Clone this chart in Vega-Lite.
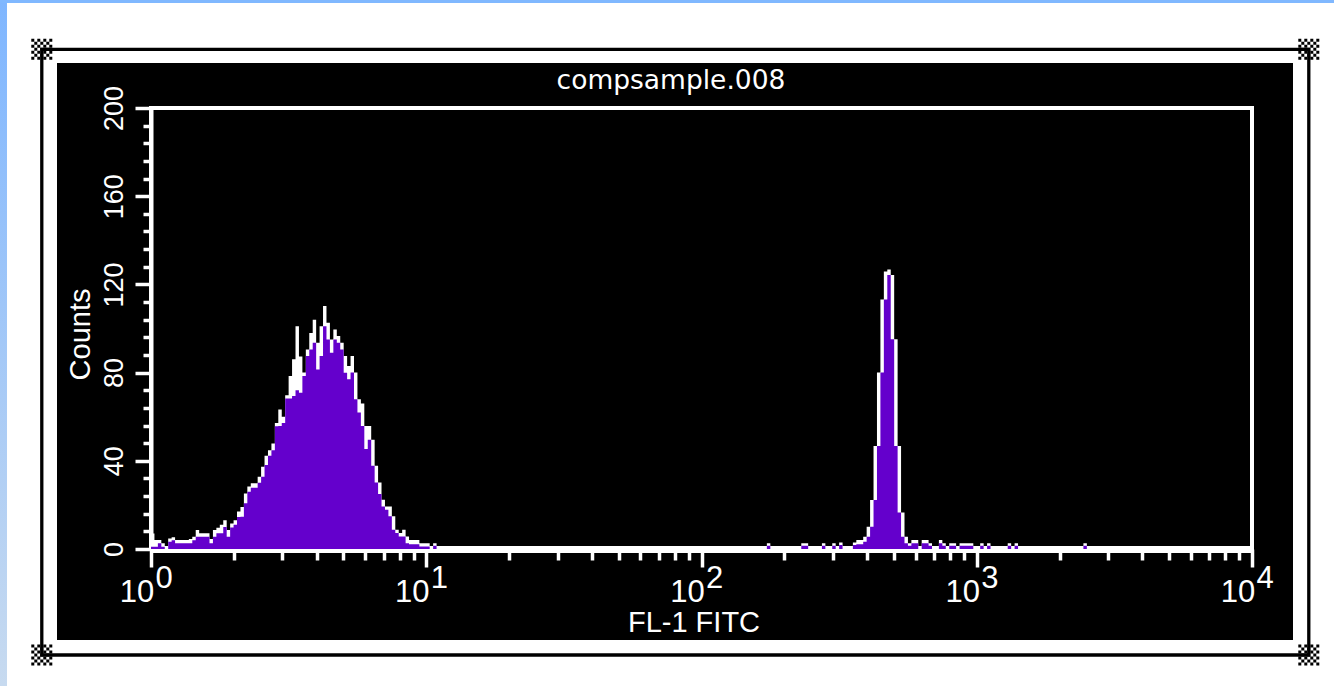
{
  "$schema": "https://vega.github.io/schema/vega-lite/v6.json",
  "width": 1236,
  "height": 577,
  "autosize": {"type": "none"},
  "padding": {"left": 57, "top": 63, "right": 41, "bottom": 46},
  "background": "white",
  "config": {"view": {"fill": "black", "stroke": null}},
  "title": {"text": "compsample.008", "color": "white", "font": "DejaVu Sans", "fontSize": 26.5, "fontWeight": "normal", "anchor": "middle", "frame": "group", "offset": -116, "baseline": "alphabetic", "dx": -4},
  "data": {"values": [
    {"fl1": 1, "n": 1, "w": 7},
    {"fl1": 1.0292, "n": 1, "w": 4.1},
    {"fl1": 1.0593, "n": 2.6, "w": 4.1},
    {"fl1": 1.0902, "n": 1, "w": 2.6},
    {"fl1": 1.122, "n": 0, "w": 0},
    {"fl1": 1.1548, "n": 3.3, "w": 4.8},
    {"fl1": 1.1885, "n": 4, "w": 5.3},
    {"fl1": 1.2232, "n": 2.6, "w": 4.1},
    {"fl1": 1.2589, "n": 2.6, "w": 4.1},
    {"fl1": 1.2957, "n": 2.6, "w": 4.1},
    {"fl1": 1.3335, "n": 2.6, "w": 4.1},
    {"fl1": 1.3725, "n": 2.6, "w": 4.5},
    {"fl1": 1.4125, "n": 4, "w": 5.6},
    {"fl1": 1.4538, "n": 5.6, "w": 8.6},
    {"fl1": 1.4962, "n": 5.6, "w": 7.1},
    {"fl1": 1.5399, "n": 5.6, "w": 7.1},
    {"fl1": 1.5849, "n": 5.6, "w": 7.1},
    {"fl1": 1.6312, "n": 2.6, "w": 4.5},
    {"fl1": 1.6788, "n": 5.6, "w": 8.6},
    {"fl1": 1.7278, "n": 7.1, "w": 9.6},
    {"fl1": 1.7783, "n": 7.1, "w": 11},
    {"fl1": 1.8302, "n": 10, "w": 13},
    {"fl1": 1.8836, "n": 5.6, "w": 8.6},
    {"fl1": 1.9387, "n": 9.8, "w": 11.6},
    {"fl1": 1.9953, "n": 11, "w": 13},
    {"fl1": 2.0535, "n": 14.5, "w": 17},
    {"fl1": 2.1135, "n": 14.6, "w": 19.1},
    {"fl1": 2.1752, "n": 20.7, "w": 25.2},
    {"fl1": 2.2387, "n": 26, "w": 28.3},
    {"fl1": 2.3041, "n": 27.8, "w": 29.8},
    {"fl1": 2.3714, "n": 27.8, "w": 29.8},
    {"fl1": 2.4406, "n": 30.1, "w": 32.8},
    {"fl1": 2.5119, "n": 32.8, "w": 37.3},
    {"fl1": 2.5852, "n": 38.1, "w": 42.3},
    {"fl1": 2.6607, "n": 42.3, "w": 44.8},
    {"fl1": 2.7384, "n": 44.8, "w": 47.8},
    {"fl1": 2.8184, "n": 55.7, "w": 57.1},
    {"fl1": 2.9007, "n": 55.8, "w": 63.3},
    {"fl1": 2.9854, "n": 57.1, "w": 60},
    {"fl1": 3.0726, "n": 68.3, "w": 69.7},
    {"fl1": 3.1623, "n": 68.3, "w": 78.5},
    {"fl1": 3.2546, "n": 69.4, "w": 86},
    {"fl1": 3.3497, "n": 72, "w": 101},
    {"fl1": 3.4475, "n": 70.9, "w": 87.3},
    {"fl1": 3.5481, "n": 78.5, "w": 80},
    {"fl1": 3.6517, "n": 87.5, "w": 90.5},
    {"fl1": 3.7584, "n": 90.5, "w": 98},
    {"fl1": 3.8681, "n": 93.5, "w": 104},
    {"fl1": 3.9811, "n": 81.4, "w": 93.5},
    {"fl1": 4.0973, "n": 87.5, "w": 101},
    {"fl1": 4.217, "n": 101, "w": 110.2},
    {"fl1": 4.3401, "n": 95, "w": 102.6},
    {"fl1": 4.4668, "n": 89, "w": 95},
    {"fl1": 4.5973, "n": 95, "w": 99.6},
    {"fl1": 4.7315, "n": 93.5, "w": 96.6},
    {"fl1": 4.8697, "n": 90.5, "w": 93.5},
    {"fl1": 5.0119, "n": 79.9, "w": 87.5},
    {"fl1": 5.1582, "n": 77, "w": 83},
    {"fl1": 5.3088, "n": 80, "w": 87.5},
    {"fl1": 5.4639, "n": 67.9, "w": 80},
    {"fl1": 5.6234, "n": 61.9, "w": 67.9},
    {"fl1": 5.7876, "n": 55.8, "w": 66},
    {"fl1": 5.9566, "n": 45.3, "w": 55.8},
    {"fl1": 6.1306, "n": 49.5, "w": 55.8},
    {"fl1": 6.3096, "n": 37.7, "w": 49.5},
    {"fl1": 6.4938, "n": 30.2, "w": 37.7},
    {"fl1": 6.6834, "n": 25, "w": 30.2},
    {"fl1": 6.8786, "n": 19.3, "w": 22.3},
    {"fl1": 7.0795, "n": 17.8, "w": 19.3},
    {"fl1": 7.2862, "n": 14.8, "w": 19.3},
    {"fl1": 7.4989, "n": 8.7, "w": 14.8},
    {"fl1": 7.7179, "n": 7.2, "w": 8.7},
    {"fl1": 7.9433, "n": 5.7, "w": 7.2},
    {"fl1": 8.1752, "n": 5.7, "w": 8.7},
    {"fl1": 8.414, "n": 2.6, "w": 5.7},
    {"fl1": 8.6596, "n": 2.2, "w": 4.1},
    {"fl1": 8.9125, "n": 2.2, "w": 4.1},
    {"fl1": 9.1728, "n": 2.2, "w": 4.1},
    {"fl1": 9.4406, "n": 1.1, "w": 2.6},
    {"fl1": 9.7163, "n": 1.1, "w": 2.6},
    {"fl1": 10, "n": 1.1, "w": 2.6},
    {"fl1": 10.292, "n": 0, "w": 0},
    {"fl1": 10.593, "n": 1.5, "w": 2.6},
    {"fl1": 10.902, "n": 0, "w": 0},
    {"fl1": 172.78, "n": 1.5, "w": 2.6},
    {"fl1": 177.83, "n": 0, "w": 0},
    {"fl1": 230.41, "n": 1.5, "w": 2.6},
    {"fl1": 237.14, "n": 1.5, "w": 2.6},
    {"fl1": 244.06, "n": 0, "w": 0},
    {"fl1": 273.84, "n": 1.5, "w": 2.6},
    {"fl1": 281.84, "n": 0, "w": 0},
    {"fl1": 298.54, "n": 1.5, "w": 2.6},
    {"fl1": 307.26, "n": 0, "w": 0},
    {"fl1": 316.23, "n": 1.8, "w": 3},
    {"fl1": 325.46, "n": 0, "w": 0},
    {"fl1": 354.81, "n": 1.8, "w": 3},
    {"fl1": 365.17, "n": 2.2, "w": 4.1},
    {"fl1": 375.84, "n": 2.2, "w": 4.1},
    {"fl1": 386.81, "n": 3.3, "w": 5.6},
    {"fl1": 398.11, "n": 5.6, "w": 10.1},
    {"fl1": 409.73, "n": 10.1, "w": 22.2},
    {"fl1": 421.7, "n": 22.2, "w": 46.7},
    {"fl1": 434.01, "n": 46.7, "w": 80},
    {"fl1": 446.68, "n": 80, "w": 113.2},
    {"fl1": 459.73, "n": 113.2, "w": 125.8},
    {"fl1": 473.15, "n": 124.3, "w": 126.8},
    {"fl1": 486.97, "n": 95.1, "w": 124.3},
    {"fl1": 501.19, "n": 46.7, "w": 95.1},
    {"fl1": 515.82, "n": 16.5, "w": 46.7},
    {"fl1": 530.88, "n": 5.6, "w": 16.5},
    {"fl1": 546.39, "n": 2.6, "w": 5.6},
    {"fl1": 562.34, "n": 1.5, "w": 2.6},
    {"fl1": 578.76, "n": 2.6, "w": 4.1},
    {"fl1": 595.66, "n": 2.6, "w": 4.1},
    {"fl1": 613.06, "n": 0, "w": 0},
    {"fl1": 630.96, "n": 2.6, "w": 4.1},
    {"fl1": 649.38, "n": 2.6, "w": 4.1},
    {"fl1": 668.34, "n": 1.5, "w": 2.6},
    {"fl1": 687.86, "n": 0, "w": 0},
    {"fl1": 728.62, "n": 2.6, "w": 4.1},
    {"fl1": 749.89, "n": 1.5, "w": 2.6},
    {"fl1": 771.79, "n": 0, "w": 0},
    {"fl1": 794.33, "n": 1.5, "w": 2.6},
    {"fl1": 817.52, "n": 1.5, "w": 2.6},
    {"fl1": 841.4, "n": 0, "w": 0},
    {"fl1": 865.96, "n": 1.5, "w": 2.6},
    {"fl1": 891.25, "n": 1.5, "w": 2.6},
    {"fl1": 917.28, "n": 1.5, "w": 2.6},
    {"fl1": 944.06, "n": 1.5, "w": 2.6},
    {"fl1": 971.63, "n": 0, "w": 0},
    {"fl1": 1029.2, "n": 1.5, "w": 2.6},
    {"fl1": 1059.3, "n": 0, "w": 0},
    {"fl1": 1090.2, "n": 1.5, "w": 2.6},
    {"fl1": 1122, "n": 0, "w": 0},
    {"fl1": 1295.7, "n": 1.5, "w": 2.6},
    {"fl1": 1333.5, "n": 0, "w": 0},
    {"fl1": 1372.5, "n": 1.5, "w": 2.6},
    {"fl1": 1412.5, "n": 0, "w": 0},
    {"fl1": 2440.6, "n": 1.5, "w": 2.6},
    {"fl1": 2511.9, "n": 0, "w": 0}
  ]},
  "resolve": {"axis": {"x": "independent", "y": "independent"}},
  "layer": [
    {
      "data": {"values": [{}]},
      "mark": {"type": "rect", "fill": {"gradient": "linear", "x1": 0, "y1": 0, "x2": 0, "y2": 1, "stops": [{"offset": 0, "color": "#7fb6ff"}, {"offset": 1, "color": "#c9dbef"}]}},
      "encoding": {
        "x": {"datum": 0.25, "type": "quantitative", "axis": null},
        "x2": {"datum": 0.2998},
        "y": {"datum": 249, "type": "quantitative", "axis": null},
        "y2": {"datum": -70}
      }
    },
    {
      "data": {"values": [{}]},
      "mark": {"type": "rect", "fill": "#80b8ff"},
      "encoding": {
        "x": {"datum": 0.25, "type": "quantitative", "axis": null},
        "x2": {"datum": 30000},
        "y": {"datum": 249, "type": "quantitative", "axis": null},
        "y2": {"datum": 247.6}
      }
    },
    {
      "data": {"values": [{}]},
      "mark": {"type": "rect", "filled": false, "stroke": "black", "strokeWidth": 3.3},
      "encoding": {
        "x": {"datum": 0.4011, "type": "quantitative", "axis": null},
        "x2": {"datum": 16083},
        "y": {"datum": 226.6, "type": "quantitative", "axis": null},
        "y2": {"datum": -48.07}
      }
    },
    {
      "data": {"values": [{}]},
      "mark": {"type": "point", "filled": true, "fill": "black", "strokeWidth": 0, "opacity": 1, "size": 441, "shape": "M-1 -1h.286v.286h-.286zM-.429 -1h.286v.286h-.286zM.143 -1h.286v.286h-.286zM.714 -1h.286v.286h-.286zM-.714 -.714h.286v.286h-.286zM-.143 -.714h.286v.286h-.286zM.429 -.714h.286v.286h-.286zM-1 -.429h.286v.286h-.286zM-.429 -.429h.286v.286h-.286zM.143 -.429h.286v.286h-.286zM.714 -.429h.286v.286h-.286zM-.714 -.143h.286v.286h-.286zM-.143 -.143h.286v.286h-.286zM.429 -.143h.286v.286h-.286zM-1 .143h.286v.286h-.286zM-.429 .143h.286v.286h-.286zM.143 .143h.286v.286h-.286zM.714 .143h.286v.286h-.286zM-.714 .429h.286v.286h-.286zM-.143 .429h.286v.286h-.286zM.429 .429h.286v.286h-.286zM-1 .714h.286v.286h-.286zM-.429 .714h.286v.286h-.286zM.143 .714h.286v.286h-.286zM.714 .714h.286v.286h-.286z"},
      "encoding": {
        "x": {"datum": 0.4011, "type": "quantitative", "axis": null},
        "y": {"datum": 226.6, "type": "quantitative", "axis": null}
      }
    },
    {
      "data": {"values": [{}]},
      "mark": {"type": "point", "filled": true, "fill": "black", "strokeWidth": 0, "opacity": 1, "size": 441, "shape": "M-1 -1h.286v.286h-.286zM-.429 -1h.286v.286h-.286zM.143 -1h.286v.286h-.286zM.714 -1h.286v.286h-.286zM-.714 -.714h.286v.286h-.286zM-.143 -.714h.286v.286h-.286zM.429 -.714h.286v.286h-.286zM-1 -.429h.286v.286h-.286zM-.429 -.429h.286v.286h-.286zM.143 -.429h.286v.286h-.286zM.714 -.429h.286v.286h-.286zM-.714 -.143h.286v.286h-.286zM-.143 -.143h.286v.286h-.286zM.429 -.143h.286v.286h-.286zM-1 .143h.286v.286h-.286zM-.429 .143h.286v.286h-.286zM.143 .143h.286v.286h-.286zM.714 .143h.286v.286h-.286zM-.714 .429h.286v.286h-.286zM-.143 .429h.286v.286h-.286zM.429 .429h.286v.286h-.286zM-1 .714h.286v.286h-.286zM-.429 .714h.286v.286h-.286zM.143 .714h.286v.286h-.286zM.714 .714h.286v.286h-.286z"},
      "encoding": {
        "x": {"datum": 16083, "type": "quantitative", "axis": null},
        "y": {"datum": 226.6, "type": "quantitative", "axis": null}
      }
    },
    {
      "data": {"values": [{}]},
      "mark": {"type": "point", "filled": true, "fill": "black", "strokeWidth": 0, "opacity": 1, "size": 441, "shape": "M-1 -1h.286v.286h-.286zM-.429 -1h.286v.286h-.286zM.143 -1h.286v.286h-.286zM.714 -1h.286v.286h-.286zM-.714 -.714h.286v.286h-.286zM-.143 -.714h.286v.286h-.286zM.429 -.714h.286v.286h-.286zM-1 -.429h.286v.286h-.286zM-.429 -.429h.286v.286h-.286zM.143 -.429h.286v.286h-.286zM.714 -.429h.286v.286h-.286zM-.714 -.143h.286v.286h-.286zM-.143 -.143h.286v.286h-.286zM.429 -.143h.286v.286h-.286zM-1 .143h.286v.286h-.286zM-.429 .143h.286v.286h-.286zM.143 .143h.286v.286h-.286zM.714 .143h.286v.286h-.286zM-.714 .429h.286v.286h-.286zM-.143 .429h.286v.286h-.286zM.429 .429h.286v.286h-.286zM-1 .714h.286v.286h-.286zM-.429 .714h.286v.286h-.286zM.143 .714h.286v.286h-.286zM.714 .714h.286v.286h-.286z"},
      "encoding": {
        "x": {"datum": 0.4011, "type": "quantitative", "axis": null},
        "y": {"datum": -48.07, "type": "quantitative", "axis": null}
      }
    },
    {
      "data": {"values": [{}]},
      "mark": {"type": "point", "filled": true, "fill": "black", "strokeWidth": 0, "opacity": 1, "size": 441, "shape": "M-1 -1h.286v.286h-.286zM-.429 -1h.286v.286h-.286zM.143 -1h.286v.286h-.286zM.714 -1h.286v.286h-.286zM-.714 -.714h.286v.286h-.286zM-.143 -.714h.286v.286h-.286zM.429 -.714h.286v.286h-.286zM-1 -.429h.286v.286h-.286zM-.429 -.429h.286v.286h-.286zM.143 -.429h.286v.286h-.286zM.714 -.429h.286v.286h-.286zM-.714 -.143h.286v.286h-.286zM-.143 -.143h.286v.286h-.286zM.429 -.143h.286v.286h-.286zM-1 .143h.286v.286h-.286zM-.429 .143h.286v.286h-.286zM.143 .143h.286v.286h-.286zM.714 .143h.286v.286h-.286zM-.714 .429h.286v.286h-.286zM-.143 .429h.286v.286h-.286zM.429 .429h.286v.286h-.286zM-1 .714h.286v.286h-.286zM-.429 .714h.286v.286h-.286zM.143 .714h.286v.286h-.286zM.714 .714h.286v.286h-.286z"},
      "encoding": {
        "x": {"datum": 16083, "type": "quantitative", "axis": null},
        "y": {"datum": -48.07, "type": "quantitative", "axis": null}
      }
    },
    {
      "data": {"values": [{}]},
      "mark": {"type": "rect", "filled": false, "stroke": "white", "strokeWidth": 4},
      "encoding": {
        "x": {"datum": 1, "type": "quantitative",
          "axis": {"orient": "bottom", "offset": -91, "values": [1, 10, 100, 1000, 10000], "domain": false, "ticks": false, "grid": false,
            "labelExpr": "'' + round(log(datum.value) / LN10)", "labelPadding": 38, "labelBaseline": "alphabetic", "labelAlign": "center", "labelOffset": 12.5,
            "labelColor": "white", "labelFont": "Liberation Sans", "labelFontSize": 31,
            "labelFlush": false, "labelOverlap": false, "labelBound": false, "title": null}},
        "x2": {"datum": 10000},
        "y": {"datum": 0, "type": "quantitative", "axis": null},
        "y2": {"datum": 200}
      }
    },
    {
      "mark": {"type": "area", "interpolate": "step-after", "color": "white", "opacity": 1},
      "encoding": {
        "x": {"field": "fl1", "type": "quantitative",
          "scale": {"type": "log", "domain": [1, 10000], "range": [94, 1195], "nice": false},
          "axis": {"orient": "bottom", "offset": -91, "values": [1, 10, 100, 1000, 10000], "grid": false,
            "domain": true, "domainColor": "white", "domainWidth": 7,
            "ticks": true, "tickColor": "white", "tickWidth": 3.5, "tickSize": 18,
            "labelExpr": "'10'", "labelPadding": 34, "labelBaseline": "alphabetic", "labelAlign": "center", "labelOffset": -14.5,
            "labelColor": "white", "labelFont": "Liberation Sans", "labelFontSize": 31,
            "labelFlush": false, "labelOverlap": false, "labelBound": false,
            "title": "FL-1 FITC", "titleColor": "white", "titleFont": "Liberation Sans", "titleFontSize": 29, "titleFontWeight": "normal",
            "titleX": 636.5, "titleY": 82, "titleBaseline": "alphabetic", "titleAlign": "center"}},
        "y": {"field": "w", "type": "quantitative", "stack": null,
          "scale": {"domain": [0, 200], "range": [486, 45], "nice": false, "zero": false},
          "axis": {"orient": "left", "offset": -94, "values": [0, 40, 80, 120, 160, 200], "grid": false,
            "domain": true, "domainColor": "white", "domainWidth": 4,
            "ticks": true, "tickColor": "white", "tickWidth": 3.5, "tickSize": 16,
            "labelAngle": 270, "labelAlign": "center", "labelBaseline": "alphabetic", "labelPadding": 13,
            "labelColor": "white", "labelFont": "Liberation Sans", "labelFontSize": 27, "labelOverlap": false, "labelBound": false, "labelFlush": false,
            "title": "Counts", "titleColor": "white", "titleFont": "Liberation Sans", "titleFontSize": 29, "titleFontWeight": "normal",
            "titleAngle": 270, "titleX": -62, "titleY": 271, "titleBaseline": "alphabetic", "titleAlign": "center"}}
      }
    },
    {
      "mark": {"type": "area", "interpolate": "step-after", "color": "#6400cc", "opacity": 1},
      "encoding": {
        "x": {"field": "fl1", "type": "quantitative",
          "axis": {"orient": "bottom", "offset": -91, "values": [2, 3, 4, 5, 6, 7, 8, 9, 20, 30, 40, 50, 60, 70, 80, 90, 200, 300, 400, 500, 600, 700, 800, 900, 2000, 3000, 4000, 5000, 6000, 7000, 8000, 9000],
            "grid": false, "domain": false, "labels": false, "ticks": true, "tickColor": "white", "tickWidth": 3.5, "tickSize": 11, "title": null}},
        "y": {"field": "n", "type": "quantitative", "stack": null,
          "axis": {"orient": "left", "offset": -94, "values": [8, 16, 24, 32, 48, 56, 64, 72, 88, 96, 104, 112, 128, 136, 144, 152, 168, 176, 184, 192],
            "grid": false, "domain": false, "labels": false, "ticks": true, "tickColor": "white", "tickWidth": 3.5, "tickSize": 8, "title": null}}
      }
    }
  ]
}
